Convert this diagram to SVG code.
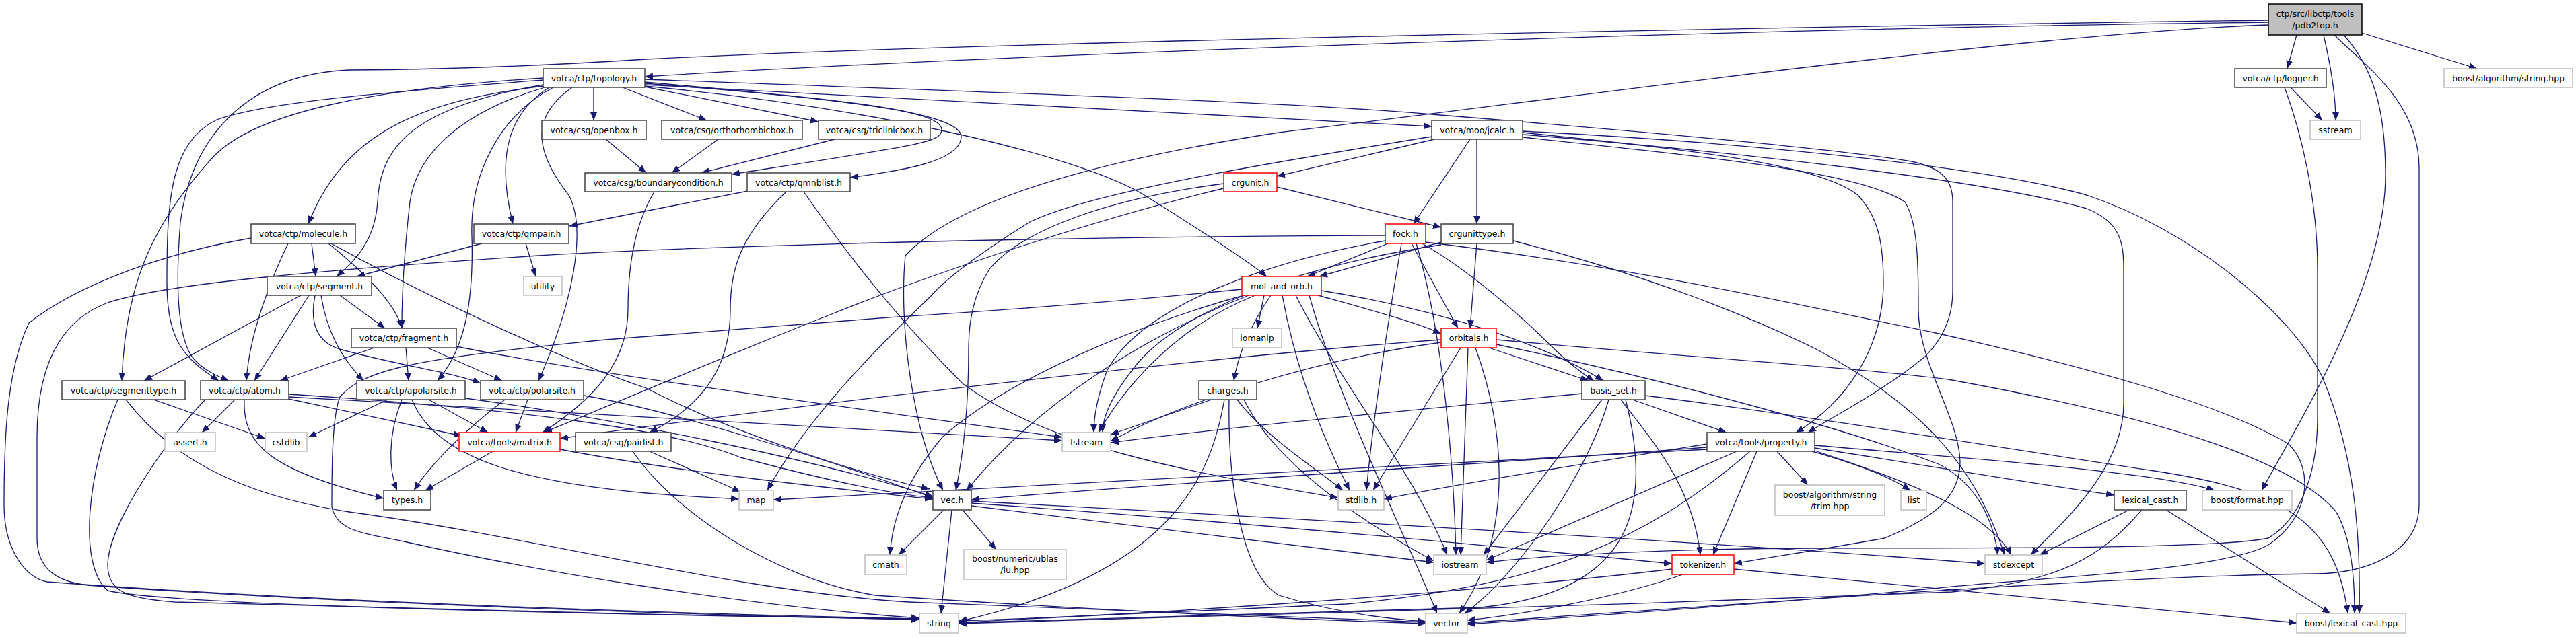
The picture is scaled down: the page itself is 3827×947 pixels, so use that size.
<svg xmlns="http://www.w3.org/2000/svg" width="3827" height="947" viewBox="0 0 3827 947">
<style>
.e{fill:none;stroke:#191970;stroke-width:1.3;marker-end:url(#a)}
.n rect{fill:#fff;stroke:#404040;stroke-width:1.5}
.r rect{fill:#fff;stroke:#ff0000;stroke-width:1.5}
.g rect{fill:#fff;stroke:#bfbfbf;stroke-width:1.5}
.root rect{fill:#bfbfbf;stroke:#000;stroke-width:1.5}
text{font-family:"DejaVu Sans","Liberation Sans",sans-serif;font-size:12.5px;text-anchor:middle;fill:#000}
</style>
<defs>
<marker id="a" markerWidth="13" markerHeight="10" refX="12" refY="5" orient="auto" markerUnits="userSpaceOnUse"><path d="M0,0 L12,5 L0,10 z" fill="#191970"/></marker>
</defs>
<rect width="3827" height="947" fill="#fff"/>
<g id="edges">
<path class="e" d="M3370,33 C2600,42 1500,80 958,114"/>
<path class="e" d="M3412,52 L3398,102"/>
<path class="e" d="M3452,52 C3462,95 3470,140 3470,179"/>
<path class="e" d="M3509,49 L3680,102"/>
<path class="e" d="M3468,52 C3510,95 3594,150 3594,250 L3594,750 C3594,820 3520,852 3440,853 C3150,856 2700,890 2180,926"/>
<path class="e" d="M3482,52 C3525,100 3544,160 3544,260 C3544,420 3420,620 3360,729"/>
<path class="e" d="M3370,37 C3000,50 2300,150 1900,197 C1620,240 1420,300 1345,380 C1335,480 1355,640 1401,729"/>
<path class="e" d="M3370,30 C2500,42 1400,65 960,88 C850,95 700,103 520,104 C370,110 285,200 268,330 C260,430 265,500 285,530 C300,550 325,560 340,566"/>
<path class="e" d="M882,130 L882,179"/>
<path class="e" d="M925,130 L1050,179"/>
<path class="e" d="M958,129 L1216,181"/>
<path class="e" d="M958,122 C1250,148 1400,163 1399,193 C1398,212 1370,215 1087,259"/>
<path class="e" d="M958,124 C1300,150 1432,172 1428,205 C1424,242 1330,255 1263,264"/>
<path class="e" d="M958,126 L2127,188"/>
<path class="e" d="M958,128 C1300,160 1600,230 1700,290 C1780,340 1850,385 1882,411"/>
<path class="e" d="M958,118 C1400,135 1900,150 2127,170 C2500,200 2750,225 2840,240 C2888,250 2901,270 2901,300 L2901,433 C2901,480 2880,510 2860,530 C2800,580 2730,615 2686,643"/>
<path class="e" d="M807,128 C620,150 510,200 458,333"/>
<path class="e" d="M807,126 C610,160 565,220 561,300 C557,360 525,390 500,411"/>
<path class="e" d="M809,130 C690,165 620,225 609,300 C600,380 597,440 597,488"/>
<path class="e" d="M816,130 C760,165 735,225 762,333"/>
<path class="e" d="M822,130 C745,170 698,255 701,350 C704,450 690,520 650,566"/>
<path class="e" d="M850,130 C792,170 790,220 845,290 C872,340 852,450 800,566"/>
<path class="e" d="M807,119 C600,135 400,150 322,178 C252,212 248,300 248,420 C248,500 268,530 325,566"/>
<path class="e" d="M807,116 C550,132 380,168 318,232 C228,330 186,420 181,566"/>
<path class="e" d="M900,207 L960,257"/>
<path class="e" d="M1067,207 L998,257"/>
<path class="e" d="M1240,207 L1042,257"/>
<path class="e" d="M972,285 C945,330 933,390 933,460 C933,540 880,595 806,643"/>
<path class="e" d="M1111,284 L846,336"/>
<path class="e" d="M1168,285 C1100,350 1085,400 1085,460 C1085,540 1050,600 965,643"/>
<path class="e" d="M1194,285 C1260,380 1330,470 1430,570 C1550,660 1750,700 1988,740"/>
<path class="e" d="M2131,207 L1897,262"/>
<path class="e" d="M2184,207 L2100,333"/>
<path class="e" d="M2194,207 L2194,333"/>
<path class="e" d="M2262,197 C2500,222 2700,242 2760,290 C2790,322 2798,360 2798,420 C2798,520 2740,600 2668,643"/>
<path class="e" d="M2262,195 C2600,212 2950,248 3100,290 C3250,340 3400,460 3450,560 C3500,680 3507,800 3505,912"/>
<path class="e" d="M2262,200 C2600,228 2950,268 3100,310 C3150,330 3155,360 3155,400 L3155,600 C3155,700 3060,780 3017,825"/>
<path class="e" d="M2262,204 C2550,235 2760,255 2830,300 C2848,330 2850,380 2850,460 C2850,540 2910,620 2912,686 C2912,740 2872,770 2800,800 C2700,818 2620,830 2576,838"/>
<path class="e" d="M2127,203 C1900,240 1620,285 1530,330 C1450,380 1405,415 1383,440 C1300,520 1200,620 1140,729"/>
<path class="e" d="M1897,278 L2141,338"/>
<path class="e" d="M1818,273 C1650,295 1520,340 1470,400 C1445,440 1439,480 1439,520 C1439,620 1428,690 1420,729"/>
<path class="e" d="M1818,280 C1650,320 1400,400 1228,470 C1100,520 960,580 808,643"/>
<path class="e" d="M2062,362 L1942,411"/>
<path class="e" d="M2058,350 C1500,352 1000,368 800,380 C500,400 250,420 160,450 C80,480 55,560 55,650 L55,800 C55,850 90,865 130,870 C400,890 900,912 1366,921"/>
<path class="e" d="M2097,362 L2166,488"/>
<path class="e" d="M2113,362 C2180,400 2260,470 2300,510 C2335,545 2355,558 2368,566"/>
<path class="e" d="M2058,358 C1900,385 1700,450 1645,550 C1630,590 1625,620 1625,643"/>
<path class="e" d="M2082,362 C2065,460 2040,620 2030,729"/>
<path class="e" d="M2104,362 C2145,500 2160,700 2163,825"/>
<path class="e" d="M2118,360 C2450,400 2700,460 2867,493 C3100,545 3300,600 3400,660 C3440,700 3430,770 3370,810 C3300,850 3000,860 2870,875 C2600,900 2300,920 2180,928"/>
<path class="e" d="M2141,360 L1960,411"/>
<path class="e" d="M2141,364 C1900,400 1750,470 1690,540 C1650,590 1638,620 1638,643"/>
<path class="e" d="M2194,362 L2184,488"/>
<path class="e" d="M2248,358 C2450,410 2600,470 2700,520 C2850,600 2935,690 2978,825"/>
<path class="e" d="M1958,439 C2040,462 2100,478 2141,496"/>
<path class="e" d="M1963,432 C2150,462 2300,515 2382,566"/>
<path class="e" d="M1878,439 L1868,488"/>
<path class="e" d="M1888,439 C1860,480 1840,525 1833,566"/>
<path class="e" d="M1865,439 C1760,480 1680,560 1632,643"/>
<path class="e" d="M1855,439 C1700,500 1540,600 1436,729"/>
<path class="e" d="M1905,439 C1925,550 1965,650 2005,729"/>
<path class="e" d="M1925,439 C1985,560 2100,700 2150,825"/>
<path class="e" d="M1945,439 C1990,600 2090,800 2135,912"/>
<path class="e" d="M1845,430 C1600,455 1350,470 1320,472 C1100,490 960,500 900,505 C612,533 540,550 505,590 C493,620 493,700 493,753 C500,790 539,792 600,805 C800,850 1100,900 1366,919"/>
<path class="e" d="M1848,439 C1700,480 1500,560 1400,650 C1340,720 1325,780 1322,825"/>
<path class="e" d="M2212,517 L2360,566"/>
<path class="e" d="M2141,505 C1800,530 1200,600 832,652"/>
<path class="e" d="M2141,509 C1950,535 1750,600 1650,656"/>
<path class="e" d="M2170,517 L2040,729"/>
<path class="e" d="M2181,517 L2170,825"/>
<path class="e" d="M2192,517 C2240,650 2245,800 2168,912"/>
<path class="e" d="M2223,505 C2500,530 2800,550 2900,565 C3200,620 3400,680 3470,760 C3494,800 3498,860 3498,912"/>
<path class="e" d="M2223,512 C2500,570 2750,640 2880,690 C2940,720 2963,780 2968,825"/>
<path class="e" d="M1800,594 L1650,646"/>
<path class="e" d="M1819,594 C1800,700 1750,850 1424,924"/>
<path class="e" d="M1838,594 C1880,650 1960,700 1995,729"/>
<path class="e" d="M1848,594 C1900,700 2050,790 2130,834"/>
<path class="e" d="M1826,594 C1824,700 1840,850 1900,885 C1980,910 2060,920 2118,924"/>
<path class="e" d="M2425,594 L2565,643"/>
<path class="e" d="M2380,594 L2204,825"/>
<path class="e" d="M2390,594 C2360,700 2260,850 2176,912"/>
<path class="e" d="M2408,594 C2450,650 2515,720 2526,825"/>
<path class="e" d="M2415,594 C2455,750 2430,880 2200,903 C1900,914 1600,920 1424,926"/>
<path class="e" d="M2350,585 C2100,610 1850,632 1650,658"/>
<path class="e" d="M2444,588 C2700,620 3000,670 3200,700 C3400,730 3470,780 3488,912"/>
<path class="e" d="M2640,671 L2686,721"/>
<path class="e" d="M2692,671 C2760,690 2810,710 2838,729"/>
<path class="e" d="M2580,671 L2208,833"/>
<path class="e" d="M2610,671 L2545,825"/>
<path class="e" d="M2600,671 C2450,800 2300,870 2000,898 C1700,912 1500,920 1424,926"/>
<path class="e" d="M2536,660 C2350,690 2150,722 2056,742"/>
<path class="e" d="M2536,665 C2200,690 1700,720 1443,743"/>
<path class="e" d="M2536,668 C2000,700 1500,725 1149,743"/>
<path class="e" d="M2696,662 C2900,680 3200,700 3290,729"/>
<path class="e" d="M2696,666 C2850,690 3000,716 3141,736"/>
<path class="e" d="M2696,670 C2850,720 2955,765 2988,825"/>
<path class="e" d="M3163,758 L3030,825"/>
<path class="e" d="M3218,758 L3462,912"/>
<path class="e" d="M3182,758 C3120,830 3060,865 2900,880 C2400,900 1800,918 1424,927"/>
<path class="e" d="M2484,846 C2200,880 1700,915 1424,923"/>
<path class="e" d="M2500,854 C2400,890 2250,915 2180,922"/>
<path class="e" d="M2576,846 L3412,926"/>
<path class="e" d="M1402,758 L1335,825"/>
<path class="e" d="M1430,758 L1480,817"/>
<path class="e" d="M1414,758 L1398,912"/>
<path class="e" d="M1443,745 C2000,775 2600,810 2949,838"/>
<path class="e" d="M1443,748 C1900,780 2300,820 2484,838"/>
<path class="e" d="M1443,752 C1750,790 2000,820 2130,836"/>
<path class="e" d="M732,671 L632,729"/>
<path class="e" d="M832,668 C1000,700 1200,722 1386,742"/>
<path class="e" d="M965,671 L1100,731"/>
<path class="e" d="M940,671 C1000,760 1150,860 1300,885 C1600,905 1900,920 2118,927"/>
<path class="e" d="M349,594 L300,643"/>
<path class="e" d="M363,594 C360,660 400,700 570,741"/>
<path class="e" d="M429,593 L686,648"/>
<path class="e" d="M429,586 C800,610 1000,640 1100,680 C1250,720 1330,735 1386,740"/>
<path class="e" d="M429,590 C900,620 1300,640 1578,655"/>
<path class="e" d="M305,594 C250,650 160,780 160,840 C160,880 190,890 260,895 C600,905 1000,915 1366,921"/>
<path class="e" d="M228,594 L394,652"/>
<path class="e" d="M175,594 C130,700 115,840 160,878 C250,900 900,914 1366,920"/>
<path class="e" d="M187,594 C245,670 343,737 533,763 C800,800 1100,880 1350,895 C1700,910 2000,922 2118,925"/>
<path class="e" d="M463,362 L469,411"/>
<path class="e" d="M428,362 C400,420 370,500 366,566"/>
<path class="e" d="M488,362 C560,420 590,460 597,488"/>
<path class="e" d="M373,354 C250,375 120,420 43,480 C10,550 6,650 6,750 C6,820 40,860 70,865 C400,890 900,910 1366,920"/>
<path class="e" d="M492,362 C650,450 850,540 960,577 C1100,650 1300,710 1381,727"/>
<path class="e" d="M447,439 L214,566"/>
<path class="e" d="M459,439 L378,566"/>
<path class="e" d="M505,439 L572,488"/>
<path class="e" d="M477,439 C485,490 505,530 540,566"/>
<path class="e" d="M468,439 C460,480 470,510 508,520 C600,545 680,555 714,570"/>
<path class="e" d="M556,517 L416,566"/>
<path class="e" d="M603,517 L607,566"/>
<path class="e" d="M635,517 L746,566"/>
<path class="e" d="M678,515 C900,560 1300,610 1578,650"/>
<path class="e" d="M576,594 L458,650"/>
<path class="e" d="M597,594 C575,650 578,700 590,729"/>
<path class="e" d="M637,594 L725,643"/>
<path class="e" d="M612,594 C650,690 800,717 960,733 C1020,738 1070,740 1098,742"/>
<path class="e" d="M691,592 C900,620 1200,680 1386,738"/>
<path class="e" d="M750,594 C690,640 640,690 615,729"/>
<path class="e" d="M784,594 L766,643"/>
<path class="e" d="M867,588 C1000,610 1250,690 1386,740"/>
<path class="e" d="M716,362 L530,411"/>
<path class="e" d="M781,362 L796,411"/>
<path class="e" d="M3403,130 L3450,179"/>
<path class="e" d="M3394,130 C3420,200 3443,300 3443,400 L3443,620 C3443,700 3420,770 3370,800 C3300,815 3000,815 2700,815 C2500,815 2300,825 2208,836"/>
</g>
<g id="pdb2top" class="root"><rect x="3370" y="6" width="139" height="46"/><text x="3439.5" y="24.5">ctp/src/libctp/tools</text><text x="3439.5" y="41.5">/pdb2top.h</text></g>
<g id="topology" class="n"><rect x="807" y="102" width="151" height="28"/><text x="882.5" y="120.5">votca/ctp/topology.h</text></g>
<g id="logger" class="n"><rect x="3320" y="102" width="136" height="28"/><text x="3388" y="120.5">votca/ctp/logger.h</text></g>
<g id="boost_algorithm_string" class="g"><rect x="3631" y="102" width="191" height="28"/><text x="3726.5" y="120.5">boost/algorithm/string.hpp</text></g>
<g id="openbox" class="n"><rect x="805" y="179" width="155" height="28"/><text x="882.5" y="197.5">votca/csg/openbox.h</text></g>
<g id="orthorhombicbox" class="n"><rect x="983" y="179" width="209" height="28"/><text x="1087.5" y="197.5">votca/csg/orthorhombicbox.h</text></g>
<g id="triclinicbox" class="n"><rect x="1216" y="179" width="166" height="28"/><text x="1299" y="197.5">votca/csg/triclinicbox.h</text></g>
<g id="jcalc" class="n"><rect x="2127" y="179" width="135" height="28"/><text x="2194.5" y="197.5">votca/moo/jcalc.h</text></g>
<g id="sstream" class="g"><rect x="3432" y="179" width="75" height="28"/><text x="3469.5" y="197.5">sstream</text></g>
<g id="boundarycondition" class="n"><rect x="869" y="257" width="218" height="28"/><text x="978" y="275.5">votca/csg/boundarycondition.h</text></g>
<g id="qmnblist" class="n"><rect x="1110" y="257" width="153" height="28"/><text x="1186.5" y="275.5">votca/ctp/qmnblist.h</text></g>
<g id="crgunit" class="r"><rect x="1818" y="257" width="79" height="28"/><text x="1857.5" y="275.5">crgunit.h</text></g>
<g id="molecule" class="n"><rect x="373" y="333" width="155" height="29"/><text x="450.5" y="352">votca/ctp/molecule.h</text></g>
<g id="qmpair" class="n"><rect x="704" y="333" width="141" height="29"/><text x="774.5" y="352">votca/ctp/qmpair.h</text></g>
<g id="fock" class="r"><rect x="2058" y="333" width="60" height="29"/><text x="2088" y="352">fock.h</text></g>
<g id="crgunittype" class="n"><rect x="2141" y="333" width="107" height="29"/><text x="2194.5" y="352">crgunittype.h</text></g>
<g id="segment" class="n"><rect x="397" y="411" width="155" height="28"/><text x="474.5" y="429.5">votca/ctp/segment.h</text></g>
<g id="utility" class="g"><rect x="778" y="411" width="57" height="28"/><text x="806.5" y="429.5">utility</text></g>
<g id="mol_and_orb" class="r"><rect x="1845" y="411" width="118" height="28"/><text x="1904" y="429.5">mol_and_orb.h</text></g>
<g id="fragment" class="n"><rect x="522" y="488" width="156" height="29"/><text x="600" y="507">votca/ctp/fragment.h</text></g>
<g id="iomanip" class="g"><rect x="1831" y="488" width="73" height="29"/><text x="1867.5" y="507">iomanip</text></g>
<g id="orbitals" class="r"><rect x="2141" y="488" width="82" height="29"/><text x="2182" y="507">orbitals.h</text></g>
<g id="segmenttype" class="n"><rect x="92" y="566" width="183" height="28"/><text x="183.5" y="584.5">votca/ctp/segmenttype.h</text></g>
<g id="atom" class="n"><rect x="298" y="566" width="131" height="28"/><text x="363.5" y="584.5">votca/ctp/atom.h</text></g>
<g id="apolarsite" class="n"><rect x="530" y="566" width="161" height="28"/><text x="610.5" y="584.5">votca/ctp/apolarsite.h</text></g>
<g id="polarsite" class="n"><rect x="714" y="566" width="153" height="28"/><text x="790.5" y="584.5">votca/ctp/polarsite.h</text></g>
<g id="charges" class="n"><rect x="1781" y="566" width="86" height="28"/><text x="1824" y="584.5">charges.h</text></g>
<g id="basis_set" class="n"><rect x="2350" y="566" width="94" height="28"/><text x="2397" y="584.5">basis_set.h</text></g>
<g id="assert" class="g"><rect x="245" y="643" width="75" height="28"/><text x="282.5" y="661.5">assert.h</text></g>
<g id="cstdlib" class="g"><rect x="394" y="643" width="62" height="28"/><text x="425" y="661.5">cstdlib</text></g>
<g id="matrix" class="r"><rect x="682" y="643" width="150" height="28"/><text x="757" y="661.5">votca/tools/matrix.h</text></g>
<g id="pairlist" class="n"><rect x="855" y="643" width="142" height="28"/><text x="926" y="661.5">votca/csg/pairlist.h</text></g>
<g id="fstream" class="g"><rect x="1578" y="643" width="72" height="28"/><text x="1614" y="661.5">fstream</text></g>
<g id="property" class="n"><rect x="2536" y="643" width="160" height="28"/><text x="2616" y="661.5">votca/tools/property.h</text></g>
<g id="types" class="n"><rect x="570" y="729" width="70" height="29"/><text x="605" y="748">types.h</text></g>
<g id="map" class="g"><rect x="1098" y="729" width="51" height="29"/><text x="1123.5" y="748">map</text></g>
<g id="vec" class="n"><rect x="1386" y="729" width="57" height="29"/><text x="1414.5" y="748">vec.h</text></g>
<g id="stdlib" class="g"><rect x="1988" y="729" width="68" height="29"/><text x="2022" y="748">stdlib.h</text></g>
<g id="trim" class="g"><rect x="2637" y="721" width="163" height="45"/><text x="2718.5" y="739.5">boost/algorithm/string</text><text x="2718.5" y="756.5">/trim.hpp</text></g>
<g id="list" class="g"><rect x="2824" y="729" width="38" height="29"/><text x="2843" y="748">list</text></g>
<g id="lexical_cast_h" class="n"><rect x="3141" y="729" width="107" height="29"/><text x="3194.5" y="748">lexical_cast.h</text></g>
<g id="boost_format" class="g"><rect x="3272" y="729" width="133" height="29"/><text x="3338.5" y="748">boost/format.hpp</text></g>
<g id="cmath" class="g"><rect x="1285" y="825" width="62" height="29"/><text x="1316" y="844">cmath</text></g>
<g id="ublas_lu" class="g"><rect x="1432" y="817" width="152" height="45"/><text x="1508" y="834.5">boost/numeric/ublas</text><text x="1508" y="852">/lu.hpp</text></g>
<g id="iostream" class="g"><rect x="2130" y="825" width="78" height="29"/><text x="2169" y="844">iostream</text></g>
<g id="tokenizer" class="r"><rect x="2484" y="825" width="92" height="29"/><text x="2530" y="844">tokenizer.h</text></g>
<g id="stdexcept" class="g"><rect x="2949" y="825" width="85" height="29"/><text x="2991.5" y="844">stdexcept</text></g>
<g id="string" class="g"><rect x="1366" y="912" width="58" height="29"/><text x="1395" y="931">string</text></g>
<g id="vector" class="g"><rect x="2118" y="912" width="62" height="29"/><text x="2149" y="931">vector</text></g>
<g id="boost_lexical_cast" class="g"><rect x="3412" y="912" width="162" height="29"/><text x="3493" y="931">boost/lexical_cast.hpp</text></g>
</svg>
